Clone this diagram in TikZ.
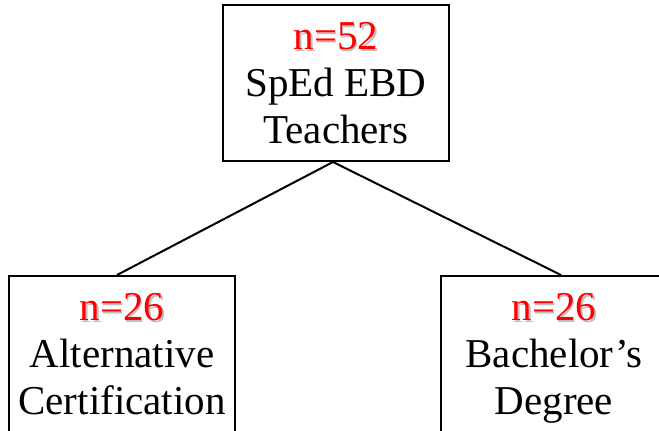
\documentclass[tikz,border=0pt]{standalone}
\usepackage{fontspec}
\setmainfont{Liberation Serif}
\newcommand\countlabel[1]{\rlap{\kern1.5pt\raisebox{-1.5pt}{\textcolor{black!25}{#1}}}\textcolor{red}{#1}}
\tikzset{
  groupbox/.style={draw=black, line width=2pt, minimum width=226pt, minimum height=156pt,
    align=center, inner sep=0pt, text depth=0pt, font=\fontsize{41}{47}\selectfont},
  link/.style={black, line width=2pt}
}
\begin{document}
\begin{tikzpicture}[x=1pt,y=1pt]
  \useasboundingbox (0,0) rectangle (659,431);
  \clip (0,0) rectangle (659,431);
  \node[groupbox] (all) at (336,348) {\countlabel{n=52}\\SpEd EBD\\Teachers};
  \node[groupbox] (alt) at (122,77) {\countlabel{n=26}\\Alternative\\Certification};
  \node[groupbox] (bach) at (554,77) {\countlabel{n=26}\\Bachelor's\\Degree};
  \coordinate (apex) at ([xshift=-3pt]all.south);
  \draw[link] (apex) -- ([xshift=-5pt]alt.north);
  \draw[link] (apex) -- ([xshift=7pt]bach.north);
\end{tikzpicture}
\end{document}
